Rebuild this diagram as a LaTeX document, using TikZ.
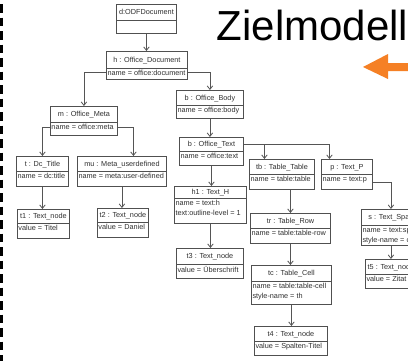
\documentclass[tikz,border=0pt]{standalone}
\usepackage{fontspec}
\setmainfont{Liberation Sans}
\usetikzlibrary{arrows.meta,calc}

\definecolor{boxline}{HTML}{505050}
\definecolor{linkline}{HTML}{555555}
\definecolor{txt}{HTML}{303030}
\definecolor{accent}{HTML}{F58025}

% UML object: name, x, y, width, height, divider offset, title, attributes
\newcommand{\umlobj}[8]{%
  \node[objbox, minimum width=#4pt, minimum height=#5pt] (#1) at (#2,#3) {};
  \draw[boxline, line width=0.9pt] ([yshift=-#6pt]#1.north west) -- ([yshift=-#6pt]#1.north east);
  \node[objtitle] (#1-title) at ($(#1.north)+(0,#6/2+2.6)$) {#7};
  \node[objattr] (#1-attr) at ($(#1.north west)+(1.3,#6+2.4)$) {#8};
}

\begin{document}
\begin{tikzpicture}[x=1pt,y=-1pt,
  objbox/.style={draw=boxline, line width=0.9pt, fill=white, inner sep=0pt, anchor=north west},
  objtitle/.style={anchor=base, inner sep=0pt, font=\fontsize{7.3}{9.5}\selectfont, text=txt},
  objattr/.style={anchor=north west, inner sep=0pt, align=left, font=\fontsize{7.3}{9.8}\selectfont, text=txt},
  link/.style={draw=linkline, line width=0.8pt, -{Straight Barb[length=3.5pt,width=5.5pt]}}]

\fill[white] (0,0) rectangle (408,360);
\clip (0,0) rectangle (408,360);

% dashed frame edge on the left
\draw[black, line width=2.5pt, dash pattern=on 8.5pt off 5pt] (1.3,4) -- (1.3,362);

% heading and pointer
\node[anchor=base west, inner sep=0pt, font=\fontsize{42}{42}\selectfont, text=black] (heading) at (216.5,40) {Zielmodell};
\fill[accent] (363,67) -- (388,54) -- (388,63) -- (412,63) -- (412,71) -- (388,71) -- (388,79) -- cycle;

% object boxes
\umlobj{d}{116}{4}{60}{29}{16}{d:ODFDocument}{}
\umlobj{h}{106}{51}{81}{28}{17}{h : Office\_Document}{name = office:document}
\umlobj{b}{176}{90}{67}{28}{15}{b : Office\_Body}{name = office:body}
\umlobj{m}{50}{106}{67}{29}{16}{m : Office\_Meta}{name = office:meta}
\umlobj{t}{16}{156}{52}{30}{15}{t : Dc\_Title}{name = dc:title}
\umlobj{mu}{77}{156}{89}{30}{15}{mu : Meta\_userdefined}{name = meta:user-defined}
\umlobj{t1}{17}{209}{52}{29}{14}{t1 : Text\_node}{value = Titel}
\umlobj{t2}{97}{208}{51}{29}{14}{t2 : Text\_node}{value = Daniel}
\umlobj{ot}{179}{137}{64}{28}{14}{b : Office\_Text}{name = office:text}
\umlobj{h1}{174}{186}{72}{37}{12}{h1 : Text\_H}{name = text:h\\text:outline-level = 1}
\umlobj{t3}{176}{248}{67}{30}{16}{t3 : Text\_node}{value = Überschrift}
\umlobj{tb}{249}{159}{65}{30}{15}{tb : Table\_Table}{name = table:table}
\umlobj{p}{321}{159}{51}{30}{15}{p : Text\_P}{name = text:p}
\umlobj{tr}{250}{213}{80}{30}{15}{tr : Table\_Row}{name = table:table-row}
\umlobj{tc}{251}{265}{80}{39}{16}{tc : Table\_Cell}{name = table:table-cell\\style-name = th}
\umlobj{t4}{254}{326}{73}{29}{15}{t4 : Text\_node}{value = Spalten-Titel}
\umlobj{s}{361}{209}{59}{36}{16}{s : Text\_Span}{name = text:span\\style-name = cite}
\umlobj{t5}{365}{259}{51}{29}{15}{t5 : Text\_node}{value = Zitat}

% connectors
\draw[link] (d.south) -- (d.south |- h.north);
\draw[link] ([yshift=-21pt]h.north west) -| (m.north);
\draw[link] ([yshift=-21pt]h.north east) -| (b.north);
\draw[link] ([yshift=-21pt]m.north west) -| (t.north);
\coordinate (muin) at ([xshift=11.5pt]mu.north);
\draw[link] ([yshift=-21pt]m.north east) -| (muin);
\draw[link] (t.south) -- (t.south |- t1.north);
\draw[link] (mu.south) -- (mu.south |- t2.north);
\draw[link] (b.south) -- (b.south |- ot.north);
\draw[link] (ot.south) -- (ot.south |- h1.north);
\draw[link] (h1.south) -- (h1.south |- t3.north);
\coordinate (otx) at ([yshift=-7pt]ot.north east);
\coordinate (tbin) at ([xshift=-17.5pt]tb.north);
\coordinate (pin) at ([xshift=-17.5pt]p.north);
\draw[link] (otx) -| (pin);
\draw[link] (tbin |- otx) -- (tbin);
\draw[link] (tr.north |- tb.south) -- (tr.north);
\draw[link] (tr.south) -- (tr.south |- tc.north);
\draw[link] (tc.south) -- (tc.south |- t4.north);
\draw[link] ([yshift=-23pt]p.north east) -| (s.north);
\draw[link] (s.south) -- (s.south |- t5.north);
\end{tikzpicture}
\end{document}
